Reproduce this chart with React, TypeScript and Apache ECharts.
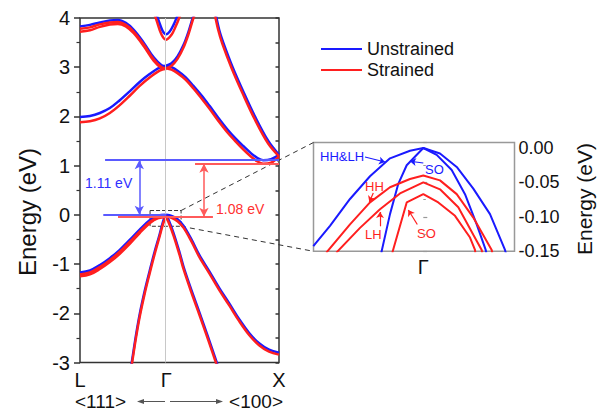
import React, { useEffect, useRef } from 'react';
import * as echarts from 'echarts';

// ---------- data ----------
const G = 0.433; // position of Gamma on the L-Gamma-X path (L=0, X=1)
const X_TICK_VALUES = [0, G, 1];
const X_TICK_LABELS = ['L', 'Γ', 'X'];

// Unstrained (blue) bands, [k, E(eV)]
const U_CB_A = [[0, 1.99], [0.05, 2.01], [0.1, 2.07], [0.15, 2.17], [0.2, 2.33], [0.25, 2.51], [0.3, 2.7], [0.35, 2.86], [0.4, 2.99], [G, 3.03]];
const U_CB_B = [[0, 3.83], [0.05, 3.86], [0.1, 3.91], [0.15, 3.95], [0.19, 3.96], [0.23, 3.9], [0.27, 3.76], [0.32, 3.5], [0.37, 3.2], [0.41, 3.04], [G, 3.02]];
const U_CB_C = [[G, 3.03], [0.46, 3.0], [0.49, 2.93], [0.53, 2.8], [0.57, 2.62], [0.61, 2.43], [0.65, 2.22], [0.69, 2.0], [0.74, 1.74], [0.78, 1.56], [0.82, 1.4], [0.86, 1.25], [0.89, 1.16], [0.92, 1.11], [0.96, 1.13], [1.0, 1.22]];
const U_CB_D = [[0.38, 4.12], [0.395, 3.95], [0.415, 3.74], [G, 3.67], [0.45, 3.72], [0.47, 3.86], [0.49, 4.05], [0.5, 4.15]];
const U_CB_E = [[G, 3.03], [0.46, 3.08], [0.49, 3.22], [0.52, 3.45], [0.545, 3.72], [0.57, 4.05], [0.58, 4.15]];
const U_CB_F = [[0.68, 4.12], [0.7, 3.75], [0.72, 3.5], [0.767, 3.0], [0.821, 2.5], [0.879, 2.0], [0.946, 1.5], [1.0, 1.22]];
const U_VB_HL = [[0, -1.17], [0.05, -1.13], [0.1, -1.02], [0.15, -0.88], [0.2, -0.71], [0.25, -0.51], [0.3, -0.3], [0.35, -0.11], [0.39, -0.02], [G, 0]];
const U_VB_HR = [[G, 0], [0.46, -0.02], [0.49, -0.09], [0.52, -0.22], [0.56, -0.5], [0.6, -0.82], [0.65, -1.15], [0.7, -1.49], [0.75, -1.8], [0.8, -2.12], [0.85, -2.4], [0.9, -2.61], [0.95, -2.74], [1.0, -2.8]];
const U_VB_SL = [[G, 0], [0.42, -0.1], [0.4, -0.4], [0.375, -0.75], [0.35, -1.14], [0.325, -1.55], [0.3, -2.02], [0.28, -2.48], [0.26, -3.0], [0.255, -3.1]];
const U_VB_SR = [[G, 0], [0.445, -0.1], [0.47, -0.37], [0.5, -0.76], [0.52, -1.05], [0.56, -1.53], [0.6, -1.98], [0.645, -2.5], [0.687, -3.0], [0.695, -3.1]];

// Strained (red) bands
const S_CB_A = [[0, 1.88], [0.05, 1.9], [0.1, 1.96], [0.15, 2.07], [0.2, 2.23], [0.25, 2.42], [0.3, 2.62], [0.35, 2.79], [0.4, 2.93], [G, 2.98]];
const S_CB_B1 = [[0, 3.78], [0.05, 3.81], [0.1, 3.87], [0.15, 3.91], [0.19, 3.92], [0.23, 3.86], [0.27, 3.72], [0.32, 3.46], [0.37, 3.16], [0.41, 3.0], [G, 2.98]];
const S_CB_B2 = [[0, 3.72], [0.05, 3.75], [0.1, 3.82], [0.15, 3.87], [0.19, 3.88], [0.23, 3.83], [0.27, 3.69], [0.32, 3.43], [0.37, 3.13], [0.41, 2.98], [G, 2.96]];
const S_CB_C = [[G, 2.98], [0.46, 2.95], [0.49, 2.88], [0.53, 2.75], [0.57, 2.57], [0.61, 2.37], [0.65, 2.16], [0.69, 1.94], [0.74, 1.68], [0.78, 1.5], [0.82, 1.33], [0.86, 1.18], [0.89, 1.09], [0.92, 1.04], [0.96, 1.06], [1.0, 1.19]];
const S_CB_D = [[0.37, 4.12], [0.385, 3.95], [0.41, 3.66], [G, 3.56], [0.46, 3.66], [0.48, 3.82], [0.5, 4.02], [0.51, 4.15]];
const S_CB_E = [[G, 2.98], [0.46, 3.03], [0.49, 3.17], [0.52, 3.4], [0.545, 3.67], [0.57, 4.0], [0.585, 4.15]];
const S_CB_F = [[0.675, 4.12], [0.695, 3.75], [0.715, 3.48], [0.762, 2.98], [0.817, 2.47], [0.876, 1.96], [0.944, 1.46], [1.0, 1.19]];
const S_VB_HL1 = [[0, -1.21], [0.05, -1.17], [0.1, -1.06], [0.15, -0.92], [0.2, -0.75], [0.25, -0.55], [0.3, -0.34], [0.35, -0.15], [0.39, -0.06], [G, -0.04]];
const S_VB_HL2 = [[0, -1.25], [0.05, -1.21], [0.1, -1.1], [0.15, -0.96], [0.2, -0.79], [0.25, -0.59], [0.3, -0.37], [0.35, -0.17], [0.39, -0.07], [G, -0.05]];
const S_VB_HR = [[G, -0.04], [0.46, -0.06], [0.49, -0.13], [0.52, -0.26], [0.56, -0.54], [0.6, -0.86], [0.65, -1.19], [0.7, -1.53], [0.75, -1.84], [0.8, -2.16], [0.85, -2.44], [0.9, -2.65], [0.95, -2.78], [1.0, -2.84]];
const S_VB_SL = [[G, -0.05], [0.42, -0.15], [0.4, -0.44], [0.375, -0.8], [0.35, -1.19], [0.325, -1.6], [0.3, -2.07], [0.28, -2.53], [0.26, -3.05], [0.255, -3.15]];
const S_VB_SR = [[G, -0.05], [0.445, -0.15], [0.47, -0.42], [0.5, -0.81], [0.52, -1.1], [0.56, -1.58], [0.6, -2.03], [0.645, -2.55], [0.687, -3.05], [0.695, -3.15]];

// gap annotations
const GAP_U = 1.11;
const GAP_S_TOP = 1.04;
const GAP_S_BOT = -0.04;

// inset (u = k offset from Gamma, arbitrary units; E in eV)
const INSET_U_RANGE = [-1.098, 0.912];
const INSET_E_RANGE = [-0.15, 0.008];
const IN_U_HHLH = [[-1.1, -0.1426], [-0.933, -0.113], [-0.733, -0.074], [-0.533, -0.041], [-0.333, -0.015], [-0.133, -0.004], [0, 0], [0.167, -0.008], [0.334, -0.0275], [0.5, -0.059], [0.667, -0.096], [0.817, -0.148], [0.83, -0.155]];
const IN_U_SO = [[-0.42, -0.152], [-0.333, -0.096], [-0.25, -0.052], [-0.166, -0.025], [0, 0], [0.134, -0.01], [0.284, -0.032], [0.417, -0.067], [0.534, -0.111], [0.624, -0.148], [0.63, -0.152]];
const IN_S_HH = [[-0.97, -0.152], [-0.733, -0.111], [-0.533, -0.079], [-0.333, -0.057], [-0.133, -0.045], [0, -0.04], [0.167, -0.047], [0.334, -0.067], [0.5, -0.101], [0.684, -0.148], [0.69, -0.152]];
const IN_S_LH = [[-0.87, -0.152], [-0.633, -0.116], [-0.433, -0.089], [-0.233, -0.066], [0, -0.05], [0.167, -0.06], [0.35, -0.086], [0.5, -0.126], [0.584, -0.148], [0.59, -0.152]];
const IN_S_SO = [[-0.31, -0.152], [-0.166, -0.079], [0, -0.067], [0.15, -0.079], [0.317, -0.0985], [0.467, -0.13], [0.517, -0.148], [0.52, -0.152]];

// zoom box in main plot [kMin, eTop, kMax, eBottom]
const ZOOM_BOX = [0.352, 0.088, 0.508, -0.232];

const FONT = '"Liberation Sans", Arial, Helvetica, sans-serif';
const BLUE = '#1a1aff';
const RED = '#ff1f1f';
const BLUE_L = '#5a5aff';
const RED_L = '#ff5a5a';

function band(name: string, data: number[][], color: string, xi: number, yi: number, width: number, smooth: any) {
  return {
    type: 'line', name, data, xAxisIndex: xi, yAxisIndex: yi,
    showSymbol: false, symbol: 'none', smooth, clip: true, silent: true,
    lineStyle: { color, width }, itemStyle: { color },
  };
}

export default function App() {
  const ref = useRef<HTMLDivElement>(null);
  useEffect(() => {
    if (!ref.current) return;
    const chart = echarts.init(ref.current, null, { renderer: 'svg' });
    const blueMain = [U_CB_A, U_CB_B, U_CB_C, U_CB_D, U_CB_E, U_CB_F, U_VB_HL, U_VB_HR, U_VB_SL, U_VB_SR];
    const redMain = [S_CB_A, S_CB_B1, S_CB_B2, S_CB_C, S_CB_D, S_CB_E, S_CB_F, S_VB_HL1, S_VB_HL2, S_VB_HR, S_VB_SL, S_VB_SR];
    const series: any[] = [];
    series.push({
      type: 'line', name: '_gamma', data: [], xAxisIndex: 0, yAxisIndex: 0, silent: true,
      markLine: { silent: true, symbol: 'none', animation: false, label: { show: false },
        lineStyle: { color: '#c8c8c8', width: 1, type: 'solid' }, data: [{ xAxis: G }] },
    });
    blueMain.forEach((d) => series.push(band('Unstrained', d, BLUE, 0, 0, 2.5, 0.35)));
    redMain.forEach((d) => series.push(band('Strained', d, RED, 0, 0, 2.5, 0.35)));
    series.push({
      type: 'line', name: '_levels', data: [], xAxisIndex: 0, yAxisIndex: 0, silent: true,
      markLine: { silent: true, symbol: 'none', animation: false, label: { show: false },
        data: [
          [{ coord: [0.126, GAP_U], lineStyle: { color: BLUE_L, width: 2, type: 'solid' } }, { coord: [1, GAP_U] }],
          [{ coord: [0.117, 0], lineStyle: { color: BLUE_L, width: 2, type: 'solid' } }, { coord: [G, 0] }],
          [{ coord: [0.578, GAP_S_TOP], lineStyle: { color: RED_L, width: 2, type: 'solid' } }, { coord: [1, GAP_S_TOP] }],
          [{ coord: [0.191, GAP_S_BOT], lineStyle: { color: RED_L, width: 2, type: 'solid' } }, { coord: [0.668, GAP_S_BOT] }],
        ] },
      markArea: { silent: true, itemStyle: { color: 'rgba(0,0,0,0)', borderColor: '#333', borderWidth: 1, borderType: 'dashed' },
        data: [[{ coord: [ZOOM_BOX[0], ZOOM_BOX[1]] }, { coord: [ZOOM_BOX[2], ZOOM_BOX[3]] }]] },
    });
    series.push({
      type: 'line', name: '_arrows', data: [], xAxisIndex: 0, yAxisIndex: 0, silent: true,
      markLine: { silent: true, symbol: ['arrow', 'arrow'], symbolSize: [7, 9], animation: false, label: { show: false },
        data: [
          [{ coord: [0.298, 0], lineStyle: { color: BLUE_L, width: 1.5, type: 'solid' }, itemStyle: { color: BLUE_L } }, { coord: [0.298, GAP_U] }],
          [{ coord: [0.623, GAP_S_BOT], lineStyle: { color: RED_L, width: 1.5, type: 'solid' }, itemStyle: { color: RED_L } }, { coord: [0.623, GAP_S_TOP] }],
        ] },
    });
    [IN_U_HHLH, IN_U_SO].forEach((d) => series.push(band('Unstrained', d, BLUE, 1, 2, 2, false)));
    [IN_S_HH, IN_S_LH, IN_S_SO].forEach((d) => series.push(band('Strained', d, RED, 1, 2, 2, false)));
    series.push({
      type: 'line', name: '_inarrows', data: [], xAxisIndex: 1, yAxisIndex: 2, silent: true, z: 5,
      markLine: { silent: true, symbol: ['none', 'arrow'], symbolSize: 6, animation: false, label: { show: false },
        data: [
          [{ coord: [-0.583, -0.0131], lineStyle: { color: BLUE, width: 1.2, type: 'solid' }, itemStyle: { color: BLUE } }, { coord: [-0.383, -0.0203] }],
          [{ coord: [0, -0.0218], lineStyle: { color: BLUE, width: 1.2, type: 'solid' }, itemStyle: { color: BLUE } }, { coord: [-0.133, -0.0192] }],
          [{ coord: [-0.5, -0.0653], lineStyle: { color: RED, width: 1.2, type: 'solid' }, itemStyle: { color: RED } }, { coord: [-0.54, -0.0784] }],
          [{ coord: [-0.433, -0.1137], lineStyle: { color: RED, width: 1.2, type: 'solid' }, itemStyle: { color: RED } }, { coord: [-0.433, -0.0929] }],
          [{ coord: [-0.06, -0.111], lineStyle: { color: RED, width: 1.2, type: 'solid' }, itemStyle: { color: RED } }, { coord: [-0.15, -0.09] }],
        ] },
    });

    const axisStyle = { color: '#333', width: 1.5 };
    const option: any = {
      animation: false,
      backgroundColor: '#fff',
      textStyle: { fontFamily: FONT },
      legend: {
        data: ['Unstrained', 'Strained'], orient: 'vertical', left: 316, top: 35,
        itemWidth: 41, itemHeight: 2, itemGap: 3, icon: 'rect', selectedMode: false,
        textStyle: { fontSize: 18, color: '#111', fontFamily: FONT },
      },
      grid: [
        { left: 80, top: 18, width: 199, height: 344.5, show: true, borderColor: '#333', borderWidth: 1.5, backgroundColor: 'rgba(0,0,0,0)' },
        { left: 313.5, top: 142.5, width: 201, height: 108.8, show: true, borderColor: '#999', borderWidth: 1.5, backgroundColor: '#fff' },
      ],
      xAxis: [
        { type: 'value', gridIndex: 0, min: 0, max: 1, axisLine: { show: false }, axisTick: { show: false }, splitLine: { show: false },
          axisLabel: { customValues: X_TICK_VALUES, fontSize: 20, margin: 7, color: '#111', fontFamily: FONT,
            formatter: (v: number) => { const i = X_TICK_VALUES.findIndex((t) => Math.abs(t - v) < 1e-6); return i >= 0 ? X_TICK_LABELS[i] : ''; } } },
        { type: 'value', gridIndex: 1, min: INSET_U_RANGE[0], max: INSET_U_RANGE[1], axisLine: { show: false }, axisTick: { show: false }, splitLine: { show: false },
          axisLabel: { customValues: [0], fontSize: 20, margin: 6, color: '#111', fontFamily: FONT, formatter: () => 'Γ' } },
      ],
      yAxis: [
        { type: 'value', gridIndex: 0, min: -3, max: 4, interval: 1, position: 'left', axisLine: { show: false },
          axisTick: { show: true, inside: false, length: 6, lineStyle: axisStyle },
          minorTick: { show: true, splitNumber: 2, length: 3.5, lineStyle: { color: '#333', width: 1.2 } },
          splitLine: { show: false }, minorSplitLine: { show: false },
          axisLabel: { fontSize: 20, margin: 10, color: '#111', fontFamily: FONT } },
        { type: 'value', gridIndex: 0, min: -3, max: 4, interval: 0.5, position: 'right', axisLine: { show: false },
          axisTick: { show: true, inside: true, length: 3.5, lineStyle: axisStyle }, axisLabel: { show: false }, splitLine: { show: false } },
        { type: 'value', gridIndex: 1, min: INSET_E_RANGE[0], max: INSET_E_RANGE[1], interval: 0.05, position: 'right', axisLine: { show: false },
          axisTick: { show: true, inside: false, length: 4, lineStyle: { color: '#999', width: 1.2 } },
          minorTick: { show: true, splitNumber: 2, length: 2.5, lineStyle: { color: '#999', width: 1 } },
          splitLine: { show: false },
          axisLabel: { fontSize: 18, margin: 4, color: '#111', fontFamily: FONT, showMaxLabel: false,
            formatter: (v: number) => (v > 0.001 ? '' : (Math.abs(v) < 1e-9 ? 0 : v).toFixed(2)) } },
      ],
      series,
    };
    chart.setOption(option);

    const p0 = (pt: number[]) => chart.convertToPixel({ gridIndex: 0 }, pt) as number[];
    const p1 = (pt: number[]) => chart.convertToPixel({ gridIndex: 1 }, pt) as number[];
    const bTR = p0([ZOOM_BOX[2], ZOOM_BOX[1]]);
    const bBR = p0([ZOOM_BOX[2], ZOOM_BOX[3]]);
    const iTL = p1([INSET_U_RANGE[0], INSET_E_RANGE[1]]);
    const iBL = p1([INSET_U_RANGE[0], INSET_E_RANGE[0]]);
    const dash = { stroke: '#333', lineWidth: 1, lineDash: [5, 4] };
    const txt = (x: number, y: number, text: string, fill: string, size: number, align = 'left', rot = 0) => ({
      type: 'text', x, y, rotation: rot, silent: true,
      style: { text, fill, fontSize: size, fontFamily: FONT, align, verticalAlign: 'middle' },
    });
    const gray = '#555';
    chart.setOption({
      graphic: [
        { type: 'line', silent: true, shape: { x1: bTR[0], y1: bTR[1], x2: iTL[0], y2: iTL[1] }, style: dash },
        { type: 'line', silent: true, shape: { x1: bBR[0], y1: bBR[1], x2: iBL[0], y2: iBL[1] }, style: dash },
        txt(27, 212, 'Energy (eV)', '#111', 24, 'center', Math.PI / 2),
        txt(584, 199, 'Energy (eV)', '#111', 21, 'center', Math.PI / 2),
        txt(85, 183, '1.11 eV', '#3030ff', 14),
        txt(216, 209, '1.08 eV', '#ff3030', 14),
        txt(320, 156, 'HH&LH', BLUE, 13),
        txt(425, 169.5, 'SO', BLUE, 13),
        txt(365, 186, 'HH', RED, 13),
        txt(365, 234, 'LH', RED, 13),
        txt(417, 233, 'SO', RED, 13),
        txt(75, 401, '<111>', '#111', 19),
        txt(283, 401, '<100>', '#111', 19, 'right'),
        { type: 'line', silent: true, shape: { x1: 165, y1: 401.5, x2: 141, y2: 401.5 }, style: { stroke: gray, lineWidth: 1 } },
        { type: 'polygon', silent: true, shape: { points: [[137, 401.5], [144, 399], [144, 404]] }, style: { fill: gray } },
        { type: 'line', silent: true, shape: { x1: 170, y1: 401.5, x2: 219, y2: 401.5 }, style: { stroke: gray, lineWidth: 1 } },
        { type: 'polygon', silent: true, shape: { points: [[223, 401.5], [216, 399], [216, 404]] }, style: { fill: gray } },
      ],
    });
    return () => chart.dispose();
  }, []);
  return <div ref={ref} style={{ position: 'absolute', left: 0, top: 0, width: 602, height: 412 }} />;
}
